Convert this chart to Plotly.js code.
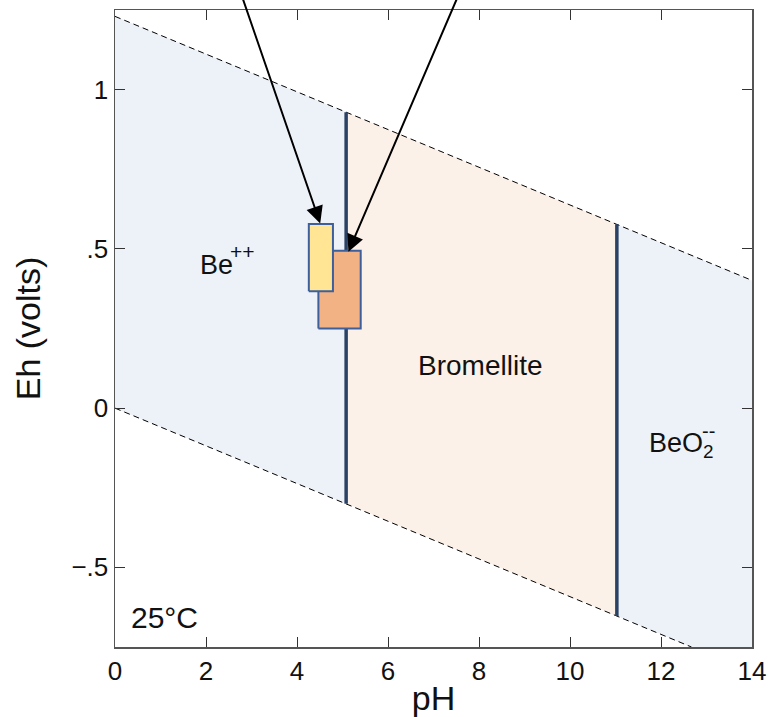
<!DOCTYPE html>
<html>
<head>
<meta charset="utf-8">
<script src="https://cdn.plot.ly/plotly-3.0.1.min.js"></script>
<style>html,body{margin:0;padding:0;background:#fff;}#chart{width:770px;height:717px;}</style>
</head>
<body>
<div id="chart"></div>
<script>
// Water stability limits
const upperPH = [0, 14];
const upperEh = [1.23, 0.401];
const lowerPH = [0, 12.67];
const lowerEh = [0, -0.75];
// Field boundaries
const boundPH = [5.08, 11.03];
const boundTop = [0.929, 0.577];
const boundBot = [-0.30, -0.653];
// Axis limits
const xMin = 0, xMax = 14, yMin = -0.75, yMax = 1.25;
// Sample boxes
const yellowPH = [4.26, 4.79];
const yellowEh = [0.367, 0.578];
const orangePH = [4.47, 5.40];
const orangeEh = [0.250, 0.494];
// Arrows: tip and tail
const arrowTipPH = [4.51, 5.13];
const arrowTipEh = [0.580, 0.491];
const arrowTailPH = [2.74, 7.60];
const arrowTailEh = [1.314, 1.314];
// Ticks
const xTicks = [0, 2, 4, 6, 8, 10, 12, 14];
const yTickVals = [-0.5, 0, 0.5, 1];
const yTickText = ['\u2212.5', '0', '.5', '1'];

const blue = '#edf1f8', peach = '#fcf1e8', navy = '#2a4266', boxLine = '#3d5f9c';

function rect(px, eh) {
  return {x: [px[0], px[1], px[1], px[0], px[0]], y: [eh[0], eh[0], eh[1], eh[1], eh[0]]};
}

const traces = [];
// Be++ field
traces.push({x: [upperPH[0], boundPH[0], boundPH[0], lowerPH[0]], y: [upperEh[0], boundTop[0], boundBot[0], lowerEh[0]],
  fill: 'toself', fillcolor: blue, mode: 'none', type: 'scatter', hoverinfo: 'skip'});
// Bromellite field
traces.push({x: [boundPH[0], boundPH[1], boundPH[1], boundPH[0]], y: [boundTop[0], boundTop[1], boundBot[1], boundBot[0]],
  fill: 'toself', fillcolor: peach, mode: 'none', type: 'scatter', hoverinfo: 'skip'});
// BeO2-- field
traces.push({x: [boundPH[1], upperPH[1], xMax, lowerPH[1], boundPH[1]], y: [boundTop[1], upperEh[1], yMin, lowerEh[1], boundBot[1]],
  fill: 'toself', fillcolor: blue, mode: 'none', type: 'scatter', hoverinfo: 'skip'});
// Water lines
traces.push({x: upperPH, y: upperEh, mode: 'lines', line: {color: '#000', width: 1, dash: '6px,4px'}, type: 'scatter', hoverinfo: 'skip'});
traces.push({x: lowerPH, y: lowerEh, mode: 'lines', line: {color: '#000', width: 1, dash: '6px,4px'}, type: 'scatter', hoverinfo: 'skip'});
// Boundaries
for (let i = 0; i < boundPH.length; i++) {
  traces.push({x: [boundPH[i], boundPH[i]], y: [boundTop[i], boundBot[i]], mode: 'lines',
    line: {color: navy, width: 3.5}, type: 'scatter', hoverinfo: 'skip'});
}
// Boxes
const ob = rect(orangePH, orangeEh);
traces.push({x: ob.x, y: ob.y, fill: 'toself', fillcolor: '#f3b283', mode: 'lines', line: {color: boxLine, width: 2}, type: 'scatter', hoverinfo: 'skip'});
const yb = rect(yellowPH, yellowEh);
traces.push({x: yb.x, y: yb.y, fill: 'toself', fillcolor: '#ffe594', mode: 'lines', line: {color: boxLine, width: 2}, type: 'scatter', hoverinfo: 'skip'});

const fontFam = 'Liberation Sans, Arial, sans-serif';
const annotations = [];
for (let i = 0; i < arrowTipPH.length; i++) {
  annotations.push({x: arrowTipPH[i], y: arrowTipEh[i], ax: arrowTailPH[i], ay: arrowTailEh[i],
    xref: 'x', yref: 'y', axref: 'x', ayref: 'y', text: '', showarrow: true,
    arrowhead: 2, arrowsize: 1.7, arrowwidth: 2, arrowcolor: '#000', standoff: 0});
}
annotations.push({x: 2.22, y: 0.449, text: 'Be', showarrow: false, font: {family: fontFam, size: 27, color: '#111'}});
annotations.push({x: 2.80, y: 0.492, text: '++', showarrow: false, font: {family: fontFam, size: 21, color: '#111'}});
annotations.push({x: 8.02, y: 0.135, text: 'Bromellite', showarrow: false, font: {family: fontFam, size: 28, color: '#111'}});
annotations.push({x: 12.45, y: -0.116, text: 'BeO<sub>2</sub>', showarrow: false, font: {family: fontFam, size: 27, color: '#111'}});
annotations.push({x: 13.05, y: -0.072, text: '--', showarrow: false, font: {family: fontFam, size: 20, color: '#111'}});
annotations.push({x: 1.08, y: -0.656, text: '25°C', showarrow: false, font: {family: fontFam, size: 30, color: '#111'}});

const axisCommon = {showgrid: false, zeroline: false, showline: true, linecolor: '#555', linewidth: 1.5,
  mirror: 'ticks', ticks: 'inside', ticklen: 10, tickwidth: 1, tickcolor: '#333',
  tickfont: {family: fontFam, size: 26, color: '#111'}};

const layout = {
  width: 770, height: 717,
  margin: {l: 115, r: 18, t: 10, b: 70},
  paper_bgcolor: '#fff', plot_bgcolor: '#fff',
  showlegend: false,
  xaxis: Object.assign({}, axisCommon, {range: [xMin, xMax], tickvals: xTicks,
    title: {text: 'pH', font: {family: fontFam, size: 34, color: '#111'}, standoff: 2}}),
  yaxis: Object.assign({}, axisCommon, {range: [yMin, yMax], tickvals: yTickVals, ticktext: yTickText,
    title: {text: 'Eh (volts)', font: {family: fontFam, size: 34, color: '#111'}, standoff: 20}}),
  annotations: annotations
};

Plotly.newPlot('chart', traces, layout, {displayModeBar: false, staticPlot: true});
</script>
</body>
</html>
